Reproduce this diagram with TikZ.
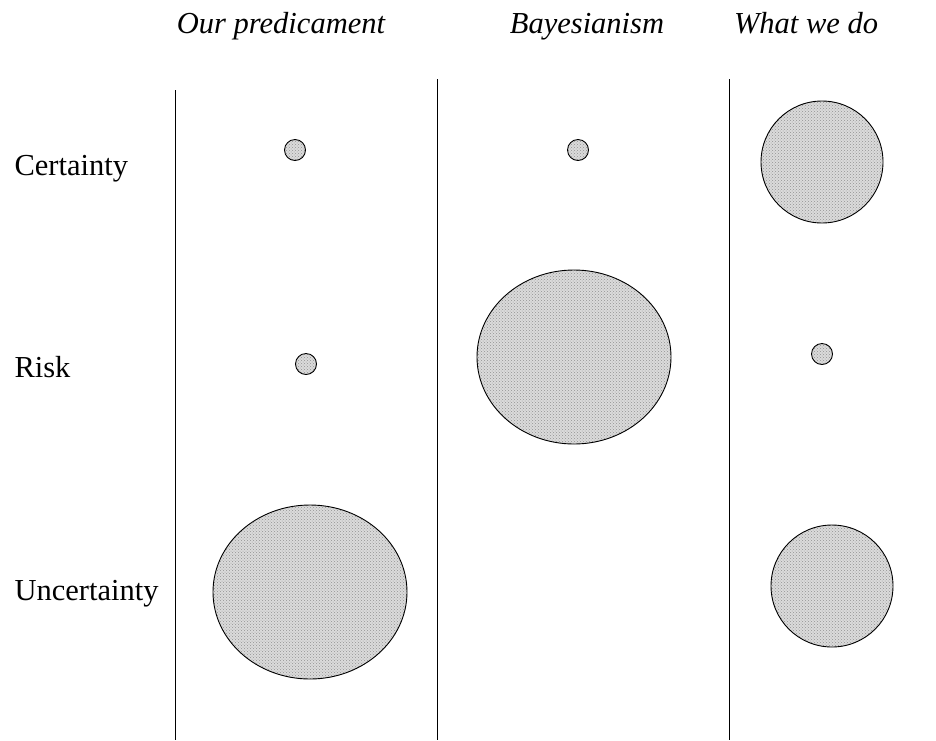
\documentclass[tikz,border=0pt]{standalone}
\usepackage{fontspec}
\setmainfont{Liberation Serif}
\usetikzlibrary{shapes.geometric,patterns}
\begin{document}
\begin{tikzpicture}[x=1pt,y=-1pt,
  every node/.style={font=\fontsize{30.5}{36}\selectfont},
  title/.style={anchor=base,font=\fontsize{30.5}{36}\selectfont\itshape},
  rowlabel/.style={anchor=base west},
  blob/.style={ellipse,draw=black,line width=0.9pt,inner sep=0pt,
    preaction={fill=gray!28},pattern=crosshatch dots,pattern color=gray!85},
  divider/.style={line width=1pt}]
\useasboundingbox (0,0) rectangle (936,740);
% titles
\node[title] (t1) at (281,33) {Our predicament};
\node[title] (t2) at (587,33) {Bayesianism};
\node[title] (t3) at (806,33) {What we do};
% row labels
\node[rowlabel] (r1) at (11,175) {Certainty};
\node[rowlabel] (r2) at (11,377) {Risk};
\node[rowlabel] (r3) at (11,600) {Uncertainty};
% dividers
\coordinate (d1a) at (175,90);  \coordinate (d1b) at (175,740);
\coordinate (d2a) at (437,79);  \coordinate (d2b) at (437,740);
\coordinate (d3a) at (729,79);  \coordinate (d3b) at (729,740);
\draw[divider] (d1a) -- (d1b);
\draw[divider] (d2a) -- (d2b);
\draw[divider] (d3a) -- (d3b);
% column 1
\node[blob,minimum width=21pt,minimum height=21pt] (c11) at (295,150) {};
\node[blob,minimum width=21pt,minimum height=21pt] (c12) at (306,364) {};
\node[blob,minimum width=194pt,minimum height=174pt] (c13) at (310,592) {};
% column 2
\node[blob,minimum width=21pt,minimum height=21pt] (c21) at (578,150) {};
\node[blob,minimum width=194pt,minimum height=174pt] (c22) at (574,357) {};
% column 3
\node[blob,minimum width=122pt,minimum height=122pt] (c31) at (822,162) {};
\node[blob,minimum width=21pt,minimum height=21pt] (c32) at (822,354) {};
\node[blob,minimum width=122pt,minimum height=122pt] (c33) at (832,586) {};
\end{tikzpicture}
\end{document}
